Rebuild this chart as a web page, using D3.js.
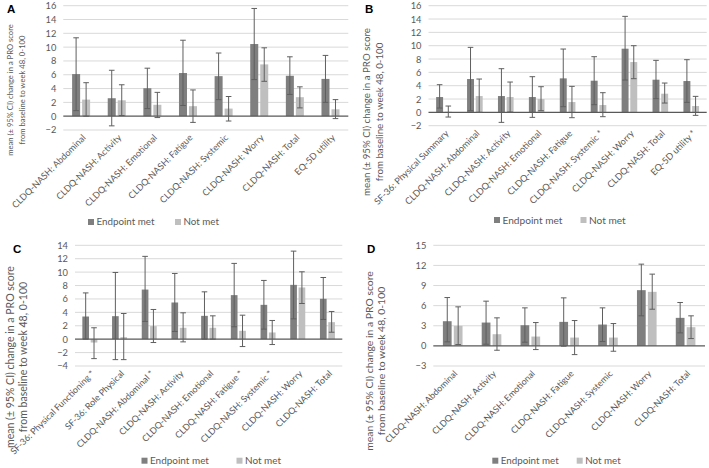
<!DOCTYPE html>
<html><head><meta charset="utf-8">
<script src="https://cdn.jsdelivr.net/npm/d3@7"></script>
<style>
html,body{margin:0;padding:0;background:#fff;}
svg{display:block;font-family:Lato,"Open Sans",sans-serif;}
</style></head>
<body><svg id="chart" width="709" height="468"></svg>
<script>
// ---------- DATA ----------
const seriesNames = ["Endpoint met", "Not met"];

const catsA = ["CLDQ-NASH: Abdominal","CLDQ-NASH: Activity","CLDQ-NASH: Emotional","CLDQ-NASH: Fatigue","CLDQ-NASH: Systemic","CLDQ-NASH: Worry","CLDQ-NASH: Total","EQ-5D utility"];
const metA    = [6.1, 2.6, 4.05, 6.25, 5.8, 10.45, 5.85, 5.4];
const metLoA  = [0.8, -1.4, 1.1, 1.55, 2.4, 5.3, 3.15, 2.0];
const metHiA  = [11.35, 6.65, 6.95, 11.0, 9.15, 15.6, 8.6, 8.8];
const notA    = [2.4, 2.3, 1.65, 1.45, 1.1, 7.5, 2.75, 1.0];
const notLoA  = [0.0, 0.1, -0.2, -0.9, -0.7, 5.05, 1.2, -0.35];
const notHiA  = [4.85, 4.55, 3.45, 3.8, 2.85, 9.9, 4.25, 2.4];
const ticksA  = [-2, 0, 2, 4, 6, 8, 10, 12, 14, 16];

const catsB = ["SF-36: Physical Summary","CLDQ-NASH: Abdominal","CLDQ-NASH: Activity","CLDQ-NASH: Emotional","CLDQ-NASH: Fatigue","CLDQ-NASH: Systemic *","CLDQ-NASH: Worry","CLDQ-NASH: Total","EQ-5D utility *"];
const metB    = [2.3, 5.0, 2.45, 2.3, 5.1, 4.75, 9.55, 4.9, 4.7];
const metLoB  = [0.65, 0.25, -1.5, -0.75, 0.85, 1.15, 4.85, 2.05, 1.5];
const metHiB  = [4.15, 9.75, 6.55, 5.35, 9.5, 8.35, 14.4, 7.8, 7.9];
const notB    = [0.1, 2.45, 2.3, 2.0, 1.55, 1.1, 7.55, 2.8, 0.95];
const notLoB  = [-0.7, 0.0, 0.05, 0.25, -0.8, -0.65, 5.05, 1.4, -0.45];
const notHiB  = [0.95, 5.0, 4.55, 3.85, 3.9, 2.95, 10.0, 4.4, 2.4];
const ticksB  = [-2, 0, 2, 4, 6, 8, 10, 12, 14, 16];

const catsC = ["SF-36: Physical Functioning *","SF-36: Role Physical","CLDQ-NASH: Abdominal *","CLDQ-NASH: Activity","CLDQ-NASH: Emotional","CLDQ-NASH: Fatigue *","CLDQ-NASH: Systemic *","CLDQ-NASH: Worry","CLDQ-NASH: Total"];
const metC    = [3.38, 3.43, 7.4, 5.47, 3.48, 6.57, 5.12, 8.1, 6.02];
const metLoC  = [0.0, -3.05, 2.65, 1.15, 0.0, 1.85, 1.5, 3.03, 2.94];
const metHiC  = [6.9, 9.95, 12.35, 9.8, 7.06, 11.3, 8.76, 13.13, 9.2];
const notC    = [-0.5, 0.3, 1.95, 1.7, 1.7, 1.25, 1.0, 7.71, 2.54];
const notLoC  = [-2.9, -3.05, -0.5, -0.4, 0.0, -1.1, -0.8, 5.32, 1.04];
const notHiC  = [1.7, 3.83, 4.43, 3.93, 3.48, 3.58, 2.79, 10.05, 4.13];
const ticksC  = [-4, -2, 0, 2, 4, 6, 8, 10, 12, 14];

const catsD = ["CLDQ-NASH: Abdominal","CLDQ-NASH: Activity","CLDQ-NASH: Emotional","CLDQ-NASH: Fatigue","CLDQ-NASH: Systemic","CLDQ-NASH: Worry","CLDQ-NASH: Total"];
const metD    = [3.68, 3.48, 3.08, 3.58, 3.18, 8.31, 4.18];
const metLoD  = [0.6, 0.25, 0.55, -0.05, 0.65, 4.48, 1.94];
const metHiD  = [7.21, 6.67, 5.67, 7.16, 5.67, 12.19, 6.47];
const notD    = [2.99, 1.74, 1.39, 1.24, 1.24, 8.06, 2.79];
const notLoD  = [0.2, -0.65, -0.55, -1.3, -0.8, 5.47, 1.09];
const notHiD  = [5.82, 4.18, 3.48, 3.78, 3.33, 10.7, 4.48];
const ticksD  = [-3, 0, 3, 6, 9, 12, 15];

const titleLine1 = "mean (± 95% CI) change in a PRO score";
const titleLine2 = "from baseline to week 48, 0-100";

// ---------- LAYOUT ----------
// lenTitle / lenCat / lenLeg: rendered widths (px) of title line 1, "CLDQ-NASH: Abdominal", "Endpoint met"
const panels = [
  {letter:"A", cats:catsA, vals:[metA,notA], lo:[metLoA,notLoA], hi:[metHiA,notHiA], ticks:ticksA,
   x0:63.3, x1:348.3, yTop:5.7, yBot:130, letterPos:[7,12.5],
   titleX:[10,22.5], titleY:90, lenTitle:132, lenCat:100, lenLeg:58, tickFs:9.3,
   legY:222, legX:[88,175]},
  {letter:"B", cats:catsB, vals:[metB,notB], lo:[metLoB,notLoB], hi:[metHiB,notHiB], ticks:ticksB,
   x0:428.5, x1:706.7, yTop:5.7, yBot:125.7, letterPos:[365,12.5],
   titleX:[367,379.5], titleY:112, lenTitle:168, lenCat:101, lenLeg:60, tickFs:9.3,
   legY:220, legX:[494,580.5]},
  {letter:"C", cats:catsC, vals:[metC,notC], lo:[metLoC,notLoC], hi:[metHiC,notHiC], ticks:ticksC,
   x0:75, x1:342.3, yTop:245.3, yBot:366, letterPos:[13,253],
   titleX:[10,23], titleY:357, lenTitle:182, lenCat:99, lenLeg:59, tickFs:9.3,
   legY:460.7, legX:[141.5,236.5]},
  {letter:"D", cats:catsD, vals:[metD,notD], lo:[metLoD,notLoD], hi:[metHiD,notHiD], ticks:ticksD,
   x0:433.3, x1:705, yTop:245.3, yBot:366, letterPos:[367,253],
   titleX:[369,381.5], titleY:361, lenTitle:180, lenCat:98, lenLeg:58, tickFs:9.3,
   legY:460.7, legX:[492.3,576.7]}
];

const colors = ["#7f7f7f", "#bfbfbf"];
const textColor = "#595959";
const svg = d3.select("#chart");

function fitSize(parent, str, target) {
  const t = parent.append("text").attr("font-size", 10).text(str);
  const L = t.node().getComputedTextLength();
  t.remove();
  return 10 * target / L;
}

panels.forEach(p => {
  const g = svg.append("g");
  const y = d3.scaleLinear().domain([p.ticks[0], p.ticks[p.ticks.length-1]]).range([p.yBot, p.yTop]);
  const x = d3.scaleBand().domain(p.cats).range([p.x0, p.x1]).padding(0);
  const xs = d3.scaleBand().domain([0,1]).range([0, x.bandwidth()]).paddingInner(0.2).paddingOuter(0.88);

  const titleFs = fitSize(g, titleLine1, p.lenTitle);
  const catFs = fitSize(g, "CLDQ-NASH: Abdominal", p.lenCat);
  const legFs = fitSize(g, "Endpoint met", p.lenLeg);

  // gridlines
  g.append("g").selectAll("line").data(p.ticks.filter(t => t !== 0)).join("line")
    .attr("x1", p.x0).attr("x2", p.x1)
    .attr("y1", d => y(d)).attr("y2", d => y(d))
    .attr("stroke", "#d9d9d9").attr("stroke-width", 1);

  // y axis labels
  const yAxis = d3.axisLeft(y).tickValues(p.ticks).tickSize(0).tickPadding(7);
  const ya = g.append("g").attr("transform", `translate(${p.x0},0)`).call(yAxis);
  ya.select(".domain").remove();
  ya.selectAll("text").attr("font-size", p.tickFs).attr("fill", textColor).attr("font-family", "Lato");

  // bars
  p.vals.forEach((arr, si) => {
    g.append("g").selectAll("rect").data(arr).join("rect")
      .attr("x", (d, i) => x(p.cats[i]) + xs(si))
      .attr("width", xs.bandwidth())
      .attr("y", d => Math.min(y(d), y(0)))
      .attr("height", d => Math.abs(y(d) - y(0)))
      .attr("fill", colors[si]);
  });

  // zero line
  g.append("line").attr("x1", p.x0).attr("x2", p.x1).attr("y1", y(0)).attr("y2", y(0))
    .attr("stroke", "#595959").attr("stroke-width", 1.2);

  // error bars
  const cap = 2.8;
  p.vals.forEach((arr, si) => {
    const eg = g.append("g").attr("stroke", "#5f5f5f").attr("stroke-width", 1);
    arr.forEach((d, i) => {
      const cx = x(p.cats[i]) + xs(si) + xs.bandwidth()/2;
      const lo = p.lo[si][i], hi = p.hi[si][i];
      eg.append("line").attr("x1", cx).attr("x2", cx).attr("y1", y(lo)).attr("y2", y(hi));
      eg.append("line").attr("x1", cx-cap).attr("x2", cx+cap).attr("y1", y(lo)).attr("y2", y(lo));
      eg.append("line").attr("x1", cx-cap).attr("x2", cx+cap).attr("y1", y(hi)).attr("y2", y(hi));
    });
  });

  // category labels
  g.append("g").selectAll("text").data(p.cats).join("text")
    .attr("transform", d => `translate(${x(d) + x.bandwidth()/2 + 3},${p.yBot + 6}) rotate(-45)`)
    .attr("text-anchor", "end").attr("dy", "0.35em")
    .attr("font-size", catFs).attr("fill", textColor)
    .text(d => d);

  // y title
  [titleLine1, titleLine2].forEach((t, k) => {
    g.append("text")
      .attr("transform", `translate(${p.titleX[k]},${p.titleY}) rotate(-90)`)
      .attr("text-anchor", "middle").attr("dy", "0.35em")
      .attr("font-size", titleFs).attr("fill", textColor).text(t);
  });

  // legend
  seriesNames.forEach((s, k) => {
    g.append("rect").attr("x", p.legX[k]).attr("y", p.legY - 3).attr("width", 6).attr("height", 6).attr("fill", colors[k]);
    g.append("text").attr("x", p.legX[k] + 8.5).attr("y", p.legY).attr("dy", "0.35em")
      .attr("font-size", legFs).attr("fill", textColor).text(s);
  });

  // panel letter
  g.append("text").attr("x", p.letterPos[0]).attr("y", p.letterPos[1])
    .attr("font-family", "Liberation Sans, Arial, sans-serif").attr("font-weight", "bold")
    .attr("font-size", 11.5).attr("fill", "#000").text(p.letter);
});
</script>
</body></html>
